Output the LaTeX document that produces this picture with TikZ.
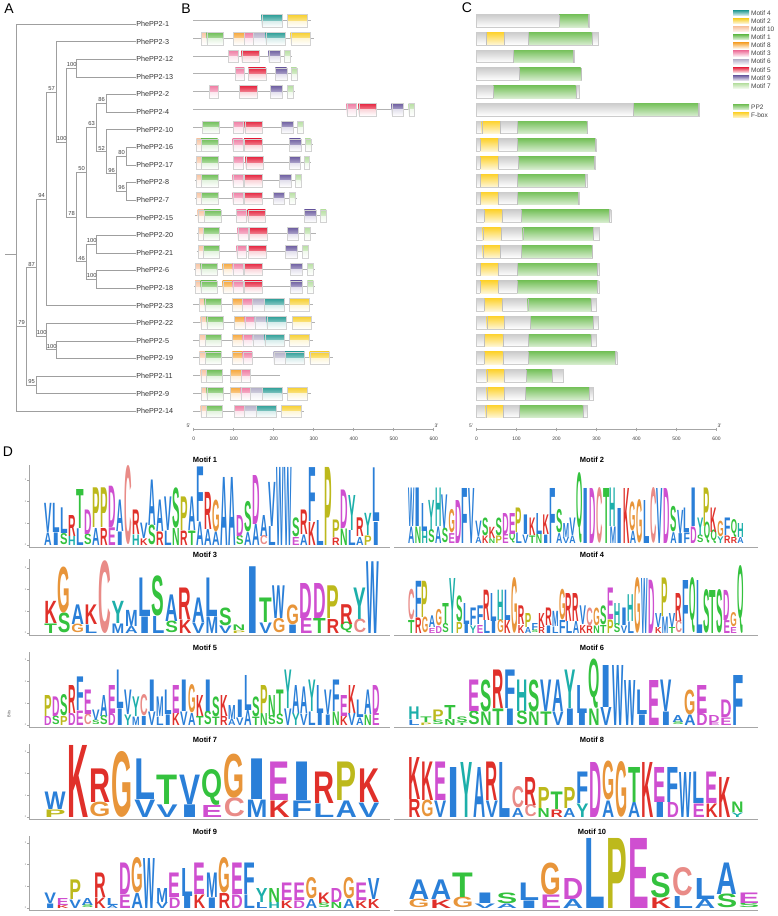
\documentclass[tikz,border=0pt]{standalone}
\usepackage{fontspec}
\setmainfont{Liberation Sans}
\usetikzlibrary{calc}
% motif colours
\definecolor{mct}{HTML}{2A9D96}
\definecolor{mcy}{HTML}{F7CF2E}
\definecolor{mcp}{HTML}{F8C4A2}
\definecolor{mcg}{HTML}{6DBE55}
\definecolor{mco}{HTML}{F6A73A}
\definecolor{mck}{HTML}{EF7BA2}
\definecolor{mcl}{HTML}{B2AEC7}
\definecolor{mcr}{HTML}{E5213C}
\definecolor{mcu}{HTML}{6B5B9F}
\definecolor{mcs}{HTML}{B7DFA2}
\definecolor{pptwo}{HTML}{76C15B}
\definecolor{fboxc}{HTML}{FDD22F}
% amino acid colours
\definecolor{lgBlue}{HTML}{2A7FD8}
\definecolor{lgSalmon}{HTML}{E98B87}
\definecolor{lgOrange}{HTML}{E8953A}
\definecolor{lgMag}{HTML}{CF4FD0}
\definecolor{lgRed}{HTML}{E0302A}
\definecolor{lgTeal}{HTML}{1DAFAA}
\definecolor{lgGreen}{HTML}{34C23E}
\definecolor{lgOlive}{HTML}{BDB91C}
\colorlet{aaA}{lgBlue}\colorlet{aaF}{lgBlue}\colorlet{aaI}{lgBlue}\colorlet{aaL}{lgBlue}
\colorlet{aaM}{lgBlue}\colorlet{aaV}{lgBlue}\colorlet{aaW}{lgBlue}
\colorlet{aaC}{lgSalmon}\colorlet{aaG}{lgOrange}
\colorlet{aaD}{lgMag}\colorlet{aaE}{lgMag}
\colorlet{aaK}{lgRed}\colorlet{aaR}{lgRed}
\colorlet{aaH}{lgTeal}\colorlet{aaY}{lgTeal}
\colorlet{aaN}{lgGreen}\colorlet{aaQ}{lgGreen}\colorlet{aaS}{lgGreen}\colorlet{aaT}{lgGreen}
\colorlet{aaP}{lgOlive}

\def\dotstr{.}
\newcommand\aaletter[4]{%
  \node[anchor=south, inner sep=0pt, outer sep=0pt, text=aa#3] at (#1,#2) {\resizebox{\lwx pt}{#4pt}{\bfseries #3}};}
\newcommand\logocol[5]{%
  \edef\tmpb{#4}%
  \ifx\tmpb\dotstr
    \aaletter{#1}{#2}{#3}{#5}%
  \else
    \pgfmathsetmacro\hbot{0.3*#5}%
    \pgfmathsetmacro\htop{#5-\hbot}%
    \pgfmathsetmacro\ytop{#2-\hbot}%
    \aaletter{#1}{#2}{#4}{\hbot}%
    \aaletter{#1}{\ytop}{#3}{\htop}%
  \fi}
\newcommand\drawlogo[4]{%
  \def\ncols{0}%
  \foreach \q [count=\n] in {#4} {\xdef\ncols{\n}}%
  \pgfmathsetmacro\lwcol{(#2-#1)/\ncols}%
  \pgfmathsetmacro\lwx{0.94*\lwcol}%
  \foreach \ta/\tb/\th [count=\ci] in {#4} {%
    \pgfmathsetmacro\cx{#1+(\ci-0.5)*\lwcol}%
    \logocol{\cx}{#3}{\ta}{\tb}{\th}}%
}
\newcommand\motifbox[4]{%
  \shade[top color=mc#1, bottom color=mc#1!55] (#2,#4-6) rectangle (#3,#4+0.5);
  \shade[top color=mc#1!18, bottom color=white] (#2,#4+0.5) rectangle (#3,#4+6.5);
  \draw[gray!35, line width=0.3] (#2,#4-6) rectangle (#3,#4+6.5);}
\newcommand\leftaxis[3]{% name, top, line y
  \draw[gray!70, line width=0.5] (29,#2) -- (29,#3) -- (390,#3);
  \foreach \k in {0,1,2,3} {
    \draw[gray!70, line width=0.3] (27,#3-2-21.7*\k) -- (29,#3-2-21.7*\k);
    \node[font=\fontsize{2.5}{3}\selectfont, text=gray, inner sep=0pt] (#1t\k) at (25.5,#3-2-21.7*\k) {\k};}}
\newcommand\rightaxis[1]{\draw[gray!70, line width=0.5] (394,#1) -- (758,#1);}

\begin{document}
\begin{tikzpicture}[x=1pt,y=-1pt,
  br/.style={draw=gray!75, line width=0.6},
  leaf/.style={anchor=west, inner sep=0.6pt, font=\fontsize{7.2}{8}\selectfont, text=black!80},
  bs/.style={anchor=south, inner sep=0.3pt, font=\fontsize{5.8}{6}\selectfont, text=black!75},
  plab/.style={font=\fontsize{14}{14}\selectfont, inner sep=0pt},
  axl/.style={font=\fontsize{5}{5}\selectfont, text=black!75, inner sep=0pt},
  legtxt/.style={anchor=west, font=\fontsize{6.5}{7}\selectfont, text=black!75, inner sep=0pt},
  mtitle/.style={font=\bfseries\fontsize{7.5}{8}\selectfont, inner sep=0pt}]
\useasboundingbox (0,0) rectangle (777,916);
\fill[white] (0,0) rectangle (777,916);

% panel letters
\node[plab] (pA) at (9,9) {A};
\node[plab] (pB) at (186,8.5) {B};
\node[plab] (pC) at (467,8) {C};
\node[plab] (pD) at (8,452) {D};

% ---------- tree ----------
\foreach \nm/\i in {1/0,3/1,12/2,13/3,2/4,4/5,10/6,16/7,17/8,8/9,7/10,15/11,20/12,21/13,6/14,18/15,23/16,22/17,5/18,19/19,11/20,9/21,14/22}
  \node[leaf] (L\nm) at (135.5,24+17.6*\i) {PhePP2-\nm};

\coordinate (root) at (16,253.8);
\coordinate (r0) at (5,253.8);
\coordinate (n79) at (26.7,326.2);
\coordinate (n87) at (36.7,267.6);
\coordinate (n95) at (36.7,384.8);
\coordinate (n94) at (46.7,198.8);
\coordinate (n100a) at (46.7,336.4);
\coordinate (n57) at (56.7,92.05);
\coordinate (n100b) at (56.7,349.6);
\coordinate (n100c) at (66.7,142.5);
\coordinate (n100d) at (76.7,68);
\coordinate (n78) at (76.7,217.05);
\coordinate (n50) at (86.7,172.5);
\coordinate (n46) at (86.7,261.6);
\coordinate (n63) at (96.7,127.4);
\coordinate (n100e) at (96.7,244);
\coordinate (n100f) at (96.7,279.2);
\coordinate (n86) at (106.7,103.2);
\coordinate (n52) at (106.7,151.6);
\coordinate (n96) at (116.7,173.6);
\coordinate (n80) at (126.7,156);
\coordinate (n96b) at (126.7,191.2);

\draw[br] (r0) -- (root);
\foreach \p/\c in {root/L1.west, root/n79, root/L14.west,
  n79/n87, n79/n95, n87/n94, n87/n100a, n94/n57, n94/L23.west,
  n57/L3.west, n57/n100c, n100c/n100d, n100c/n78, n100d/L12.west, n100d/L13.west,
  n78/n50, n78/n46, n50/n63, n50/L15.west, n63/n86, n63/n52, n86/L2.west, n86/L4.west,
  n52/L10.west, n52/n96, n96/n80, n96/n96b, n80/L16.west, n80/L17.west,
  n96b/L8.west, n96b/L7.west, n46/n100e, n46/n100f, n100e/L20.west, n100e/L21.west,
  n100f/L6.west, n100f/L18.west, n100a/L22.west, n100a/n100b, n100b/L5.west, n100b/L19.west,
  n95/L11.west, n95/L9.west}
  \draw[br] (\p) |- (\c);

\foreach \nd/\v in {n79/79, n87/87, n95/95, n94/94, n100a/100, n57/57, n100b/100, n100c/100,
  n100d/100, n78/78, n50/50, n46/46, n63/63, n100e/100, n100f/100, n86/86, n52/52, n96/96, n80/80, n96b/96}
  \node[bs] (bs-\nd) at ($(\nd)+(-5,-1)$) {\v};

% ---------- panel B ----------
\foreach \i/\xs/\xe/\bx in {
 0/193.3/310.7/{t/261.7/281.7,y/287/306.7},
 1/193.3/314/{p/201/206.7,g/206.7/222.7,o/233.3/244,k/244/253.3,l/253.3/265.7,t/265.7/285,y/290.7/310},
 2/193.3/291.7/{k/228.3/237.7,r/241.7/259,u/268.7/280,s/284.3/290.3},
 3/193.3/297.3/{k/235.3/244.3,r/248.3/265.7,u/275.3/286.7,s/291/296.7},
 4/193.3/295/{k/209/218.3,r/239.3/257,u/270.3/281.7,s/287/292.7},
 5/193.3/415/{k/346.7/356,r/358.7/375.7,u/391.7/403.3,s/408.7/414.3},
 6/193.3/304/{g/202.3/218.7,k/233.3/243.3,r/244.7/262,u/281.3/293,s/297.3/303.3},
 7/195/312.7/{p/196.3/201,g/201/217.7,k/232.7/242.7,r/244/261.7,u/289.3/300.7,s/305/310.7},
 8/195/311/{p/196.3/201,g/201/217.7,k/233.3/243,r/245.7/263.3,u/289.3/300.3,s/304/309.3},
 9/195/302.3/{p/196.3/201,g/201/217.7,k/232.7/242.7,r/244/261.7,u/279/290.7,s/295/300.7},
 10/195/296.7/{p/196.3/201,g/201/217.7,k/232.7/242.7,r/244/261.7,u/273/284.3,s/289/294.7},
 11/195/327/{p/197.7/204,g/204/220.7,k/236.3/246,r/247.7/265.3,u/304.3/315.7,s/320.3/326},
 12/196.7/315.7/{p/198.3/203.3,g/203.3/219.3,k/237.7/247.7,r/249.3/267,u/287/298.3,s/304/309.7},
 13/196.7/308.7/{p/198.3/203.3,g/203.3/219,k/236.7/246.3,r/248/265.7,u/285.3/296.7,s/302.3/308},
 14/194.3/315/{p/195/200.7,g/200.7/216.7,o/222.7/232.7,k/232.7/242.7,r/244.3/262,u/290.3/302,s/307.3/313.3},
 15/194.3/315/{p/195/200.7,g/200.7/216.7,o/222.7/232.7,k/232.7/242.7,r/244.3/262,u/290.3/302,s/307.3/313.3},
 16/193.3/312.7/{p/199.3/204.7,g/204.7/221.3,o/232/242.3,k/242.3/252,l/252/264,t/264/283.7,y/289/308.7},
 17/193.3/315/{p/200.7/206.7,g/206.7/222.7,o/234.3/244.7,k/244.7/254.7,l/254.7/266.7,t/266.7/286,y/292/311.3},
 18/193.3/312.7/{p/199.3/205,g/205/221.3,o/232.3/242.7,k/242.7/252.7,l/252.7/264.7,t/264.7/284,y/289.3/308.7},
 19/193.3/333.3/{p/199.3/205,g/205/221.3,o/232.3/242.7,k/242.7/252,l/273.7/285,t/285/304.3,y/309.7/329.3},
 20/193.3/280/{p/200.7/206,g/206/222.3,o/230.3/241,k/241/250.3},
 21/193.3/310.7/{p/201/206.7,g/206.7/222.7,o/230.3/240.7,k/240.7/250.3,l/250.3/262.3,t/262.3/281.7,y/287.3/307},
 22/193.3/304/{p/200.7/206,g/206/222,k/234.3/244,l/244/256.3,t/256.3/275.7,y/281.3/300.7}} {
  \pgfmathsetmacro\yy{20.5+17.75*\i}
  \draw[gray!60, line width=0.8] (\xs,\yy) -- (\xe,\yy);
  \foreach \bc/\bxa/\bxb in \bx {\motifbox{\bc}{\bxa}{\bxb}{\yy}}
}
% axis B
\draw[gray!70, line width=0.5] (193.3,429.5) -- (433.3,429.5);
\foreach \k in {0,...,6} {
  \draw[gray!70, line width=0.4] (193.3+40*\k,427.5) -- (193.3+40*\k,431);
  \pgfmathtruncatemacro\lab{100*\k}
  \node[axl] (bax\k) at (193.8+40*\k,438.5) {\lab};}
\node[axl] (b5) at (188.5,425.5) {5'};
\node[axl] (b3) at (436.5,425.5) {3'};

% ---------- panel C ----------
\foreach \i/\e/\ya/\yb/\ga/\gb in {
 0/589/0/0/559/588.3, 1/598.3/486/504/528.3/591.7, 2/574/0/0/513.3/573.3, 3/580.7/0/0/519.3/580.7,
 4/579/0/0/493.3/575.7, 5/699/0/0/633/698, 6/587.3/481.7/500/517.3/586.7, 7/596/480/498.3/517.3/595,
 8/595.3/480/498.3/518.3/594.3, 9/586.7/480/498.3/517.3/585.3, 10/579/480/498.3/517.3/578.3,
 11/611/484/501.7/521.3/609, 12/598.7/482.7/500.7/522.7/593.3, 13/592.3/482.7/500.3/521.3/591.7,
 14/598.7/480/498.3/517.3/597.3, 15/598.7/480/498.3/517.3/597.3, 16/595.7/484.3/502.3/527.7/590.7,
 17/597.7/486.7/504.3/530.3/593.3, 18/595.7/484.3/502.7/528.3/590.7, 19/617/484.3/502.7/528.3/615,
 20/563.3/486.7/504/526/551.7, 21/593.3/486.7/504.3/525/589, 22/587.3/485.7/503.3/519/582.7} {
  \pgfmathsetmacro\yy{20.5+17.75*\i}
  \shade[top color=gray!40, bottom color=white] (476,\yy-6) rectangle (\e,\yy+6.5);
  \draw[gray!40, line width=0.3] (476,\yy-6) rectangle (\e,\yy+6.5);
  \ifdim\ya pt>1pt
    \shade[top color=fboxc, bottom color=fboxc!20] (\ya,\yy-6) rectangle (\yb,\yy+6.5);
    \draw[gray!50, line width=0.3] (\ya,\yy-6) -- (\ya,\yy+6.5) (\yb,\yy-6) -- (\yb,\yy+6.5);
  \fi
  \shade[top color=pptwo, bottom color=pptwo!30] (\ga,\yy-6) rectangle (\gb,\yy+6.5);
  \draw[gray!50, line width=0.3] (\ga,\yy-6) -- (\ga,\yy+6.5) (\gb,\yy-6) -- (\gb,\yy+6.5);
}
% axis C
\draw[gray!70, line width=0.5] (476,429.5) -- (716,429.5);
\foreach \k in {0,...,6} {
  \draw[gray!70, line width=0.4] (476+40*\k,427.5) -- (476+40*\k,431);
  \pgfmathtruncatemacro\lab{100*\k}
  \node[axl] (cax\k) at (476.5+40*\k,438.5) {\lab};}
\node[axl] (c5) at (471,425.5) {5'};
\node[axl] (c3) at (719.5,425.5) {3'};

% ---------- legend ----------
\foreach \lc/\lt [count=\k from 0] in {t/Motif 4, y/Motif 2, p/Motif 10, g/Motif 1, o/Motif 8, k/Motif 3, l/Motif 6, r/Motif 5, u/Motif 9, s/Motif 7} {
  \pgfmathsetmacro\ly{13+8.1*\k}
  \shade[top color=mc\lc, bottom color=mc\lc!15] (733,\ly-2.6) rectangle (749,\ly+2.6);
  \node[legtxt] (leg\k) at (751,\ly) {\lt};}
\shade[top color=pptwo, bottom color=pptwo!25] (733,104.4) rectangle (749,109.6);
\node[legtxt] (legpp) at (751,107) {PP2};
\shade[top color=fboxc, bottom color=fboxc!25] (733,112.4) rectangle (749,117.6);
\node[legtxt] (legfb) at (751,115) {F-box};

% ---------- panel D ----------
\node[mtitle] (t1) at (205,460) {Motif 1};
\node[mtitle] (t2) at (592,460) {Motif 2};
\node[mtitle] (t3) at (205,555) {Motif 3};
\node[mtitle] (t4) at (592,555) {Motif 4};
\node[mtitle] (t5) at (205,648) {Motif 5};
\node[mtitle] (t6) at (592,648) {Motif 6};
\node[mtitle] (t7) at (205,740) {Motif 7};
\node[mtitle] (t8) at (592,740) {Motif 8};
\node[mtitle] (t9) at (205,832) {Motif 9};
\node[mtitle] (t10) at (592,832) {Motif 10};
\leftaxis{ax1}{465}{547}
\leftaxis{ax3}{559}{635}
\leftaxis{ax5}{652}{727}
\leftaxis{ax7}{744}{819}
\leftaxis{ax9}{836}{910}
\rightaxis{547}
\rightaxis{635}
\rightaxis{727}
\rightaxis{819}
\rightaxis{910}
\node[rotate=90, font=\fontsize{4}{4}\selectfont, text=black!70, inner sep=0pt] (bits) at (9,714) {Bits};

% Motif 1
\drawlogo{44}{380}{545}{V/A/41.7, L/I/41.7, L/S/36.7, R/H/30, T/L/55.7, D/S/35, P/A/56.7, P/R/56.7, D/E/59, A/I/45,
 C/./78, R/H/35, V/K/22, A/S/65, A/R/45, V/L/48, S/N/56.7, P/R/48, A/T/48, F/A/78, R/A/53, G/A/45, A/./68, A/./68,
 D/S/30, S/A/43, D/A/70, A/C/30, V/L/63, W/./78, W/./78, S/E/26.7, R/A/35, F/K/77, L/./25, P/./78, P/R/25, D/N/55,
 Y/L/50, R/A/26.7, Y/P/31.7, L/I/76.7}
% Motif 2
\drawlogo{408}{744}{543}{W/A/55, I/N/55, L/H/40, Y/S/43, H/A/55, V/S/48, G/E/33, D/./43, F/./55, V/./55, V/A/22,
 S/K/25, K/N/16, S/P/25, D/E/30, E/Q/30, P/L/35, I/V/28, K/T/25, L/N/30, K/I/28, F/./55, S/A/33, M/V/20, V/A/25,
 Q/./55, I/./55, D/./55, C/./55, T/./55, H/M/55, I/./35, K/./55, G/A/41, G/./43, L/./43, C/./55, V/./55, D/./55,
 S/A/36, V/I/33, L/F/35, I/D/55, Y/S/25, P/Q/55, K/Q/35, G/Y/22, F/R/25, Q/R/20, H/A/20}
% Motif 3
\drawlogo{44}{380}{633}{K/T/31.7, G/S/65, A/G/28, K/L/28, C/./71.7, Y/M/31.7, M/A/23, L/I/55, S/L/56.7, A/S/38,
 R/K/45, A/V/35, L/M/55, S/V/25, N/P/8, I/./66.7, T/V/35, W/G/46.7, G/I/28, D/E/50, D/T/50, P/R/46.7, R/Q/28.3,
 Y/C/45, W/./71.7}
% Motif 4
\drawlogo{408}{744}{633}{C/T/43.3, F/R/51.7, P/G/51.7, A/E/16.7, G/D/23, T/S/30, Y/./55, S/P/36.7, L/I/30, F/Y/25,
 F/E/26.7, R/L/43.3, L/I/40, H/G/43.3, L/K/43.3, G/./55, R/K/26.7, P/A/20, F/S/10, K/R/20, R/I/25, M/L/21.7,
 G/F/43.3, R/L/40, R/A/40, V/K/26.7, C/R/25, G/N/25, S/T/26.7, E/P/45, H/S/30, I/V/25, H/L/38.3, G/./55, W/./55,
 D/./53.3, V/K/20, P/M/55, V/T/20, R/C/40, F/./53, Q/./43, L/./53, S/./43, T/./43, S/./43, D/E/43, G/E/20, Q/./53}
% Motif 5
\drawlogo{44}{380}{725}{P/D/30, D/S/28, S/P/30, R/D/40, F/E/48, E/C/35, V/S/15, A/S/30, E/D/40, L/I/55, V/Y/35,
 Y/M/28, C/I/30, I/V/45, M/L/28, L/I/35, E/K/40, I/V/45, G/A/40, K/T/30, I/S/45, S/T/28, K/R/30, M/A/20, I/V/25,
 L/A/50, S/T/28, P/N/40, N/S/30, T/S/35, Y/V/55, A/Y/40, A/V/38, Y/L/45, L/I/40, V/I/35, F/N/45, E/K/30, K/V/40,
 L/A/25, A/N/35, D/E/40}
% Motif 6
\drawlogo{408}{744}{725}{H/L/18, T/P/8, P/S/15, T/N/20, S/T/8, E/S/45, S/N/45, R/T/55, F/I/55, H/S/45, S/N/45,
 V/T/45, A/V/45, Y/I/55, L/I/40, Q/N/55, I/V/60, W/./60, W/./45, L/I/35, E/./45, V/I/45, A/S/10, G/A/35, E/D/40,
 D/E/10, D/E/25, F/./50}
% Motif 7
\drawlogo{44}{380}{817}{W/P/25, K/./72, R/G/48, G/./65, L/V/58, T/V/42, V/I/42, Q/E/40, G/C/62, I/M/58, E/K/55,
 I/F/55, R/L/45, P/A/55, K/V/48}
% Motif 8
\drawlogo{408}{744}{817}{K/R/60, K/G/55, E/V/55, I/./50, Y/./55, A/./50, R/V/55, L/./55, C/A/30, R/C/40, P/N/30,
 T/R/25, P/A/30, F/Y/45, D/./55, G/A/55, G/./55, T/A/50, K/./55, E/I/50, F/D/50, W/./45, L/E/45, E/K/45, K/./40,
 N/Y/15}
% Motif 9
\drawlogo{44}{380}{908}{V/I/15, E/K/10, P/V/28, A/S/10, R/K/35, L/A/10, D/E/45, G/A/50, W/./50, M/V/20, E/D/35,
 L/I/40, E/K/45, M/I/35, G/R/50, E/D/45, F/L/45, Y/L/20, N/H/20, E/K/25, E/D/25, G/A/30, K/S/15, D/N/20, G/A/30,
 E/K/25, V/K/30}
% Motif 10
\drawlogo{408}{760}{908}{A/G/28, A/K/28, T/G/35, I/V/15, S/A/15, L/I/25, G/E/45, D/A/30, L/./70, P/./70, E/./70,
 S/K/35, C/L/40, L/A/30, A/S/45, E/S/15}
\end{tikzpicture}
\end{document}
